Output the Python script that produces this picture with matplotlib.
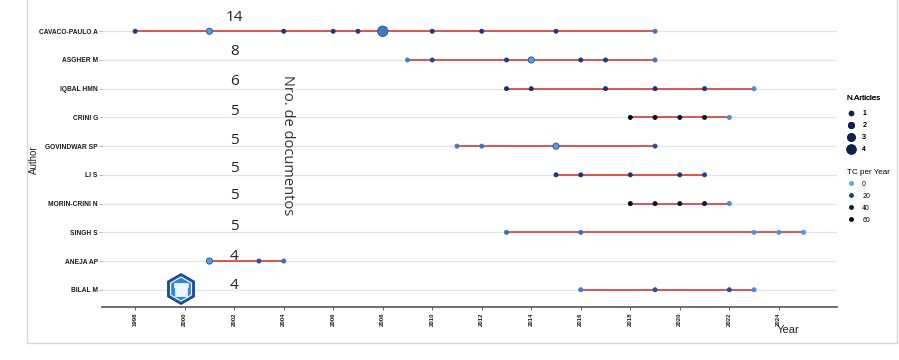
import matplotlib
matplotlib.use("Agg")
import matplotlib.pyplot as plt
import numpy as np
from matplotlib.lines import Line2D
from matplotlib.patches import Rectangle, RegularPolygon
from matplotlib.colors import LinearSegmentedColormap

# ---------------- data ----------------
authors = ["CAVACO-PAULO A", "ASGHER M", "IQBAL HMN", "CRINI G", "GOVINDWAR SP",
           "LI S", "MORIN-CRINI N", "SINGH S", "ANEJA AP", "BILAL M"]

years = {
    "CAVACO-PAULO A": [1998, 2001, 2004, 2006, 2007, 2008, 2010, 2012, 2015, 2019],
    "ASGHER M":       [2009, 2010, 2013, 2014, 2016, 2017, 2019],
    "IQBAL HMN":      [2013, 2014, 2017, 2019, 2021, 2023],
    "CRINI G":        [2018, 2019, 2020, 2021, 2022],
    "GOVINDWAR SP":   [2011, 2012, 2015, 2019],
    "LI S":           [2015, 2016, 2018, 2020, 2021],
    "MORIN-CRINI N":  [2018, 2019, 2020, 2021, 2022],
    "SINGH S":        [2013, 2016, 2023, 2024, 2025],
    "ANEJA AP":       [2001, 2003, 2004],
    "BILAL M":        [2016, 2019, 2022, 2023],
}
n_articles = {
    "CAVACO-PAULO A": [1, 2, 1, 1, 1, 4, 1, 1, 1, 1],
    "ASGHER M":       [1, 1, 1, 2, 1, 1, 1],
    "IQBAL HMN":      [1, 1, 1, 1, 1, 1],
    "CRINI G":        [1, 1, 1, 1, 1],
    "GOVINDWAR SP":   [1, 1, 2, 1],
    "LI S":           [1, 1, 1, 1, 1],
    "MORIN-CRINI N":  [1, 1, 1, 1, 1],
    "SINGH S":        [1, 1, 1, 1, 1],
    "ANEJA AP":       [2, 1, 1],
    "BILAL M":        [1, 1, 1, 1],
}
tc_per_year = {
    "CAVACO-PAULO A": [20, 2, 22, 22, 20, 8, 22, 22, 20, 9],
    "ASGHER M":       [7, 18, 20, 2, 20, 22, 9],
    "IQBAL HMN":      [25, 25, 25, 25, 22, 5],
    "CRINI G":        [50, 55, 45, 45, 5],
    "GOVINDWAR SP":   [8, 10, 2, 16],
    "LI S":           [22, 25, 25, 22, 18],
    "MORIN-CRINI N":  [50, 50, 45, 40, 5],
    "SINGH S":        [10, 10, 4, 4, 3],
    "ANEJA AP":       [2, 16, 10],
    "BILAL M":        [8, 16, 16, 5],
}
x_ticks = list(range(1998, 2025, 2))
size_legend = [1, 2, 3, 4]
tc_legend = [0, 20, 40, 60]

# ---------------- style ----------------
W, H = 899, 360
fig = plt.figure(figsize=(W / 100, H / 100), dpi=100)
fig.patch.set_facecolor("white")

def fx(px):
    return px / W

def fy(py):
    return 1 - py / H

ax = fig.add_axes([fx(102), fy(307), fx(837) - fx(102), fy(14) - fy(307)])
cmap = LinearSegmentedColormap.from_list(
    "tc", [(0, "#5aa6f2"), (0.33, "#1b3c86"), (0.66, "#0d1a3c"), (1.0, "#000000")])
norm = plt.Normalize(0, 60)

def msize(n):
    d = 2.0 + 2.1 * n  # diameter in px
    return (0.72 * d) ** 2

nA = len(authors)
ypos = {a: nA - i for i, a in enumerate(authors)}

for a in authors:
    y = ypos[a]
    ax.axhline(y, color="#e4e4e4", lw=0.9, zorder=0)
    yrs = years[a]
    ax.plot([min(yrs), max(yrs)], [y, y], color="#d43a3a", lw=1.4, alpha=0.85,
            solid_capstyle="butt", zorder=1)
    n = np.array(n_articles[a])
    tc = np.array(tc_per_year[a])
    cols = cmap(norm(tc))
    edges = ["#1d4f9c" if k > 1 else c for k, c in zip(n, cols)]
    ax.scatter(yrs, [y] * len(yrs), s=[msize(k) for k in n], c=cols,
               edgecolors=edges, linewidths=0.6, zorder=3)

ax.set_xlim(1996.66, 2026.35)
ax.set_ylim(0.4, nA + 0.6)
ax.set_yticks([ypos[a] for a in authors])
ax.set_yticklabels(authors, fontsize=4.8, fontweight="bold", family="Liberation Sans",
                   color="#1a1a1a")
ax.set_xticks(x_ticks)
ax.set_xticklabels([str(t) for t in x_ticks], rotation=90, fontsize=4.3,
                   fontweight="bold", family="Liberation Sans", color="#1a1a1a")
ax.tick_params(axis="y", length=2, width=0.5, color="#999999", pad=1)
ax.tick_params(axis="x", length=2, width=0.6, color="#444444", pad=2)
for s in ["top", "right", "left"]:
    ax.spines[s].set_visible(False)
ax.spines["bottom"].set_color("#555555")
ax.spines["bottom"].set_linewidth(1.2)
ax.set_facecolor("none")

# document count annotations (offsets in pixels above each row)
label_offsets_px = [14, 8, 7, 6, 6, 6, 8, 6, 5, 4]
for a, off in zip(authors, label_offsets_px):
    total = sum(n_articles[a])
    ax.annotate(str(total), xy=(2002.0, ypos[a]), xytext=(0, off * 0.72),
                textcoords="offset points", ha="center", va="center",
                fontsize=11, family="Open Sans", color="#222222", zorder=5)

fig.text(fx(287), fy(145), "Nro. de documentos", rotation=-90, ha="center",
         va="center", fontsize=10.5, family="Open Sans", color="#333333")

fig.text(fx(788), fy(330), "Year", ha="center", va="center", fontsize=8,
         family="Liberation Sans", color="#222222")
fig.text(fx(34), fy(160), "Author", rotation=90, ha="center", va="center",
         fontsize=7, family="Liberation Sans", color="#222222")

# outer frame
fig.patches.append(Rectangle((fx(27), fy(343)), fx(897) - fx(27), fy(-5) - fy(343),
                             transform=fig.transFigure, fill=False,
                             edgecolor="#d8d8d8", lw=1.0))

# logo
logo_ax = fig.add_axes([fx(165), fy(305), fx(197) - fx(165), fy(273) - fy(305)])
logo_ax.set_xlim(-1, 1)
logo_ax.set_ylim(-1, 1)
logo_ax.set_aspect("equal")
logo_ax.axis("off")
logo_ax.add_patch(RegularPolygon((0, 0), 6, radius=0.95, facecolor="#1f5fb0",
                                 edgecolor="#16407e", lw=1))
logo_ax.add_patch(RegularPolygon((0, 0), 6, radius=0.75, facecolor="#2f86d6",
                                 edgecolor="white", lw=0.8))
logo_ax.add_patch(Rectangle((-0.35, -0.45), 0.7, 0.55, facecolor="#eaf4ff",
                            edgecolor="white", lw=0.5))
logo_ax.add_patch(Rectangle((-0.45, 0.15), 0.9, 0.2, facecolor="#eaf4ff",
                            edgecolor="white", lw=0.5))

# legends
lprop = {"family": "Liberation Sans", "size": 5}
h1 = [Line2D([], [], marker="o", ls="", markersize=0.72 * (2.5 + 1.6 * k),
             markerfacecolor="#0d1f4a", markeredgecolor="#0d1f4a") for k in size_legend]
leg1 = fig.legend(h1, [str(k) for k in size_legend], title="N.Articles",
                  loc="upper left", bbox_to_anchor=(fx(842), fy(90)), frameon=False,
                  title_fontsize=5.8, handlelength=1.3,
                  handletextpad=0.9, labelspacing=0.72, borderpad=0.2,
                  alignment="left", prop=lprop)
leg1._legend_box.sep = 6
leg1.get_title().set_family("Liberation Sans")
leg1.get_title().set_fontweight("normal")
fig.add_artist(leg1)
h2 = [Line2D([], [], marker="o", ls="", markersize=2.5,
             markerfacecolor=cmap(norm(v)), markeredgecolor=cmap(norm(v))) for v in tc_legend]
leg2 = fig.legend(h2, [str(v) for v in tc_legend], title="TC per Year",
                  loc="upper left", bbox_to_anchor=(fx(842), fy(164)), frameon=False,
                  title_fontsize=5.8, handlelength=1.3,
                  handletextpad=0.9, labelspacing=0.72, borderpad=0.2,
                  alignment="left", prop=lprop)
leg2.get_title().set_family("Liberation Sans")
leg2.get_title().set_fontweight("normal")

fig.savefig("out.png", dpi=100, facecolor="white")
